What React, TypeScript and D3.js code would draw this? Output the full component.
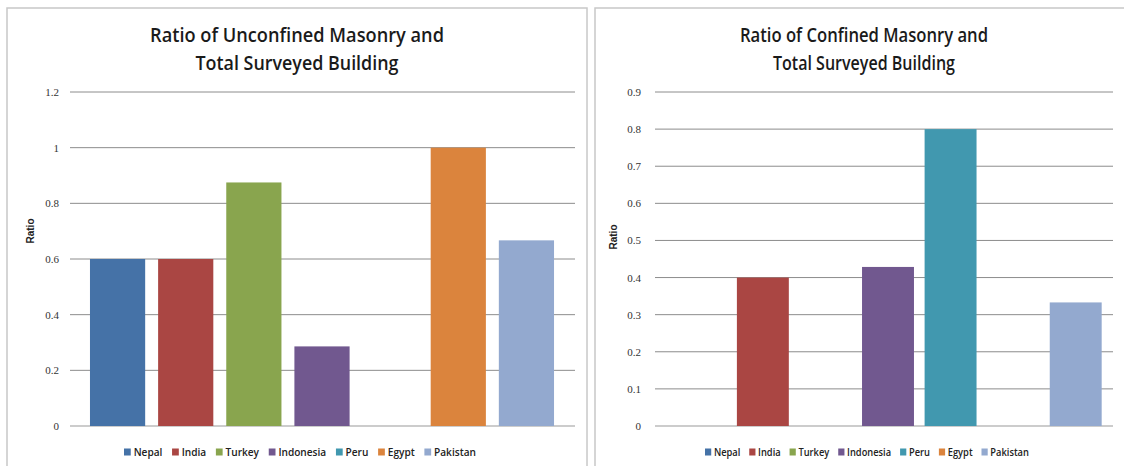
import React from "react";
import * as d3 from "d3";

const countries = ["Nepal", "India", "Turkey", "Indonesia", "Peru", "Egypt", "Pakistan"];
const colors = ["#4572A7", "#AA4643", "#89A54E", "#71588F", "#4198AF", "#DB843D", "#93A9CF"];
const unconfinedValues = [0.6, 0.6, 0.875, 0.286, 0, 1, 0.667];
const confinedValues = [0, 0.4, 0, 0.4286, 0.8, 0, 0.333];
const unconfinedTicks = [0, 0.2, 0.4, 0.6, 0.8, 1, 1.2];
const confinedTicks = [0, 0.1, 0.2, 0.3, 0.4, 0.5, 0.6, 0.7, 0.8, 0.9];
const unconfinedTitle = ["Ratio of Unconfined Masonry and", "Total Surveyed Building"];
const confinedTitle = ["Ratio of Confined Masonry and", "Total Surveyed Building"];

const LEGEND_FONT = "600 10.5px 'Open Sans'";
function measure(t: string): number {
  try {
    const c = document.createElement("canvas").getContext("2d");
    if (c) { c.font = LEGEND_FONT; return c.measureText(t).width; }
  } catch (e) {}
  return t.length * 6.2;
}

type PanelProps = {
  gridX0: number; gridX1: number; bandX0: number; bandX1: number;
  values: number[]; ticks: number[]; yMax: number; title: string[]; titleX: number; titleWidths: number[];
  tickX: number; ratioX: number; ratioY: number; legendX0: number; legendX1: number; panelLeft: number; panelRight: number;
  padInner: number;
};

function Panel(p: PanelProps) {
  const y = d3.scaleLinear().domain([0, p.yMax]).range([426, 92]);
  const x = d3.scaleBand<string>().domain(countries).range([p.bandX0, p.bandX1]).paddingInner(p.padInner).paddingOuter(p.padInner / 2);
  const itemW = countries.map((c) => 10 + measure(c));
  const gap = 10;
  let acc = 0;
  const pos = itemW.map((w) => { const v = acc; acc += w + gap; return v; });
  const natural = acc - gap;
  const sx = (p.legendX1 - p.legendX0) / natural;
  return (
    <g>
      <rect x={p.panelLeft} y={8} width={p.panelRight - p.panelLeft} height={470} fill="#fff" stroke="#c8c8c8" strokeWidth={1.5} />
      {p.title.map((t, i) => (
        <text key={i} x={p.titleX} y={42 + i * 28} textAnchor="middle" textLength={p.titleWidths[i]} lengthAdjust="spacingAndGlyphs"
          fontFamily="'Open Sans', sans-serif" fontSize={19} fontWeight={600} fill="#1a1a1a">{t}</text>
      ))}
      {p.ticks.map((t) => (
        <g key={t}>
          <line x1={p.gridX0} x2={p.gridX1} y1={y(t)} y2={y(t)} stroke={t === 0 ? "#999" : "#8c8c8c"} strokeWidth={1} />
          <text x={p.tickX} y={y(t) + 4} textAnchor="end" fontFamily="'Liberation Serif', serif" fontSize={11} fill="#333">{d3.format("~g")(t)}</text>
        </g>
      ))}
      {p.values.map((v, i) => v > 0 ? (
        <rect key={countries[i]} x={x(countries[i])} width={x.bandwidth()} y={y(v)} height={y(0) - y(v)} fill={colors[i]} />
      ) : null)}
      <text transform={`translate(${p.ratioX},${p.ratioY}) rotate(-90)`} textAnchor="middle" fontFamily="'Liberation Sans', Arial, sans-serif" fontSize={10} fontWeight="bold" fill="#222">Ratio</text>
      <g transform={`translate(${p.legendX0},452) scale(${sx},1)`}>
        {countries.map((c, i) => (
          <g key={c} transform={`translate(${pos[i]},0)`}>
            <rect x={0} y={-3.5} width={7} height={7} fill={colors[i]} />
            <text x={10} y={3.8} style={{ font: LEGEND_FONT }} fill="#222">{c}</text>
          </g>
        ))}
      </g>
    </g>
  );
}

export default function App() {
  return (
    <svg width={1124} height={466} style={{ position: "absolute", left: 0, top: 0, background: "#fff" }}>
      <rect width={1124} height={466} fill="#fff" />
      <Panel panelLeft={7} panelRight={587} gridX0={70} gridX1={575}
        bandX0={83.5} bandX1={560.5} padInner={0.19}
        values={unconfinedValues} ticks={unconfinedTicks} yMax={1.2} title={unconfinedTitle} titleX={297} titleWidths={[294, 203]}
        tickX={59} ratioX={34} ratioY={231} legendX0={124} legendX1={476} />
      <Panel panelLeft={595} panelRight={1130} gridX0={655} gridX1={1113}
        bandX0={669} bandX1={1107} padInner={0.17}
        values={confinedValues} ticks={confinedTicks} yMax={0.9} title={confinedTitle} titleX={864} titleWidths={[248, 182]}
        tickX={641} ratioX={617} ratioY={237} legendX0={705} legendX1={1029} />
    </svg>
  );
}
